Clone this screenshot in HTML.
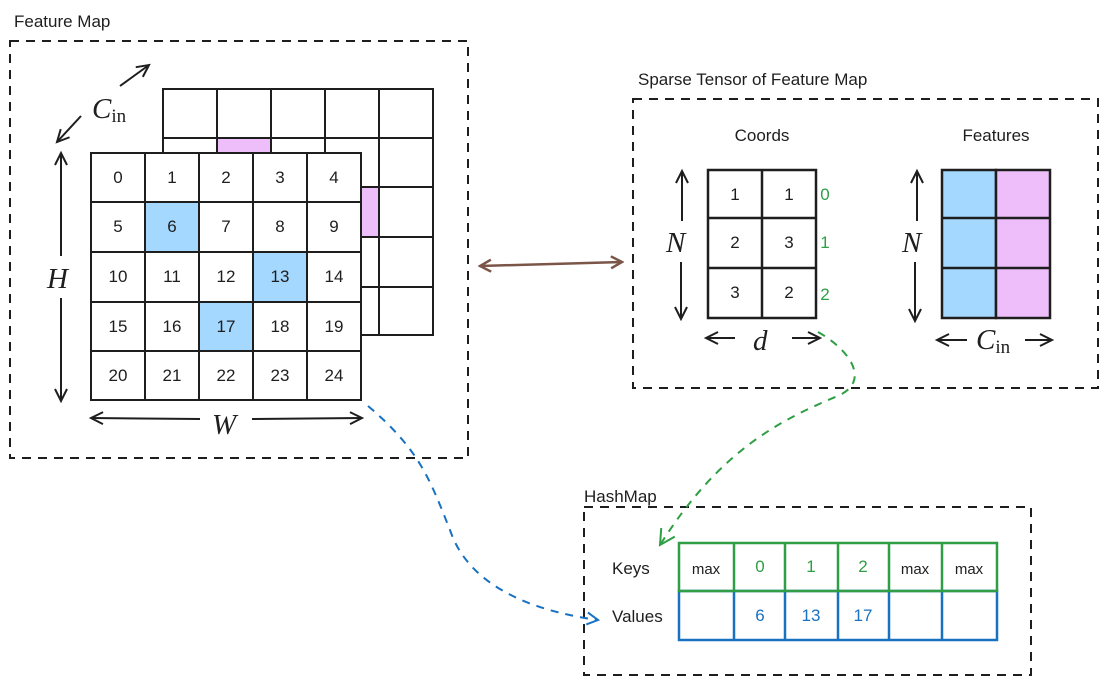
<!DOCTYPE html>
<html><head><meta charset="utf-8"><style>
html,body{margin:0;padding:0;background:#fff;}
svg{display:block;}
text{font-family:"Liberation Sans",sans-serif;}
.hand{font-size:17px;fill:#1e1e1e;}
.math{font-family:"Liberation Serif",serif;font-style:italic;font-size:29px;fill:#1e1e1e;}
</style></head><body>
<svg width="1110" height="685" viewBox="0 0 1110 685" xmlns="http://www.w3.org/2000/svg">
<defs>
<marker id="ah" markerWidth="16" markerHeight="16" refX="13" refY="8" orient="auto-start-reverse" markerUnits="userSpaceOnUse"><path d="M1,2 L13,8 L1,14" fill="none" stroke="#1e1e1e" stroke-width="2"/></marker>
<marker id="ahb" markerWidth="14" markerHeight="14" refX="12" refY="7" orient="auto-start-reverse" markerUnits="userSpaceOnUse"><path d="M1,1 L12,7 L1,13" fill="none" stroke="#7a5548" stroke-width="2.5"/></marker>
<marker id="ahblue" markerWidth="14" markerHeight="14" refX="12" refY="7" orient="auto" markerUnits="userSpaceOnUse"><path d="M1,1 L12,7 L1,13" fill="none" stroke="#1971c2" stroke-width="2"/></marker>
<marker id="ahg" markerWidth="18" markerHeight="18" refX="16" refY="9" orient="auto" markerUnits="userSpaceOnUse"><path d="M1,1 L16,9 L1,17" fill="none" stroke="#2f9e44" stroke-width="2"/></marker>
</defs>
<g fill="none" stroke="#1e1e1e" stroke-width="2" stroke-dasharray="9 7">
<rect x="10" y="41" width="458" height="417"/>
<rect x="633" y="99" width="465" height="289"/>
<rect x="584" y="507" width="447" height="168"/>
</g>
<text class="hand" x="14" y="27">Feature Map</text>
<text class="hand" x="638" y="85">Sparse Tensor of Feature Map</text>
<text class="hand" x="584" y="502">HashMap</text>

<g stroke="#1e1e1e" stroke-width="2">
<rect x="163" y="89" width="270" height="246" fill="#fff"/>
<rect x="217" y="138" width="54" height="49" fill="#eebefa"/>
<rect x="325" y="187" width="54" height="50" fill="#eebefa"/>
<path d="M217,89V335M271,89V335M325,89V335M379,89V335M163,138H433M163,187H433M163,237H433M163,287H433" fill="none"/>
</g>
<g stroke="#1e1e1e" stroke-width="2">
<rect x="91" y="153" width="270" height="247" fill="#fff"/>
<rect x="145" y="202" width="54" height="50" fill="#a5d8ff"/>
<rect x="253" y="252" width="54" height="50" fill="#a5d8ff"/>
<rect x="199" y="302" width="54" height="49" fill="#a5d8ff"/>
<path d="M145,153V400M199,153V400M253,153V400M307,153V400M91,202H361M91,252H361M91,302H361M91,351H361" fill="none"/>
</g>
<g class="hand" text-anchor="middle">
<text x="118" y="183">0</text><text x="172" y="183">1</text><text x="226" y="183">2</text><text x="280" y="183">3</text><text x="334" y="183">4</text>
<text x="118" y="232">5</text><text x="172" y="232">6</text><text x="226" y="232">7</text><text x="280" y="232">8</text><text x="334" y="232">9</text>
<text x="118" y="282">10</text><text x="172" y="282">11</text><text x="226" y="282">12</text><text x="280" y="282">13</text><text x="334" y="282">14</text>
<text x="118" y="332">15</text><text x="172" y="332">16</text><text x="226" y="332">17</text><text x="280" y="332">18</text><text x="334" y="332">19</text>
<text x="118" y="381">20</text><text x="172" y="381">21</text><text x="226" y="381">22</text><text x="280" y="381">23</text><text x="334" y="381">24</text>
</g>
<g stroke="#1e1e1e" stroke-width="2" fill="none">
<line x1="120" y1="86" x2="149" y2="65" marker-end="url(#ah)"/>
<line x1="81" y1="116" x2="57" y2="142" marker-end="url(#ah)"/>
<line x1="61" y1="256" x2="61" y2="153" marker-end="url(#ah)"/>
<line x1="61" y1="298" x2="61" y2="401" marker-end="url(#ah)"/>
<line x1="200" y1="419" x2="91" y2="418" marker-end="url(#ah)"/>
<line x1="252" y1="419" x2="362" y2="418" marker-end="url(#ah)"/>
</g>
<text class="math" x="92" y="118">C<tspan font-style="normal" font-size="19" dy="4">in</tspan></text>
<text class="math" x="47" y="288">H</text>
<text class="math" x="212" y="434">W</text>

<line x1="480" y1="266" x2="622" y2="262" stroke="#7a5548" stroke-width="2.5" marker-start="url(#ahb)" marker-end="url(#ahb)"/>

<text class="hand" x="762" y="141" text-anchor="middle">Coords</text>
<text class="hand" x="996" y="141" text-anchor="middle">Features</text>
<g stroke="#1e1e1e" stroke-width="2.5">
<rect x="708" y="170" width="108" height="148" fill="#fff"/>
<path d="M762,170V318M708,218H816M708,268H816" fill="none"/>
<rect x="942" y="170" width="54" height="148" fill="#a5d8ff"/>
<rect x="996" y="170" width="54" height="148" fill="#eebefa"/>
<path d="M942,218H1050M942,268H1050" fill="none"/>
</g>
<g class="hand" text-anchor="middle">
<text x="735" y="200">1</text><text x="789" y="200">1</text>
<text x="735" y="248">2</text><text x="789" y="248">3</text>
<text x="735" y="298">3</text><text x="789" y="298">2</text>
</g>
<g class="hand" style="fill:#2f9e44" text-anchor="middle">
<text x="825" y="200">0</text><text x="825" y="248">1</text><text x="825" y="300">2</text>
</g>
<g stroke="#1e1e1e" stroke-width="2" fill="none">
<line x1="682" y1="221" x2="682" y2="171" marker-end="url(#ah)"/>
<line x1="681" y1="262" x2="681" y2="319" marker-end="url(#ah)"/>
<line x1="735" y1="338" x2="706" y2="338" marker-end="url(#ah)"/>
<line x1="792" y1="338" x2="820" y2="338" marker-end="url(#ah)"/>
<line x1="917" y1="221" x2="917" y2="171" marker-end="url(#ah)"/>
<line x1="915" y1="262" x2="915" y2="321" marker-end="url(#ah)"/>
<line x1="967" y1="340" x2="937" y2="340" marker-end="url(#ah)"/>
<line x1="1025" y1="340" x2="1052" y2="340" marker-end="url(#ah)"/>
</g>
<text class="math" x="666" y="252">N</text>
<text class="math" x="902" y="252">N</text>
<text class="math" x="753" y="350">d</text>
<text class="math" x="976" y="349">C<tspan font-style="normal" font-size="19" dy="4">in</tspan></text>

<g stroke-width="2.5" fill="none">
<rect x="679" y="591" width="318" height="49" stroke="#1971c2"/>
<path d="M734,591V640M785,591V640M838,591V640M889,591V640M942,591V640" stroke="#1971c2"/>
<rect x="679" y="543" width="318" height="48" stroke="#2f9e44"/>
<path d="M734,543V591M785,543V591M838,543V591M889,543V591M942,543V591" stroke="#2f9e44"/>
</g>
<text class="hand" x="612" y="574">Keys</text>
<text class="hand" x="612" y="622">Values</text>
<g class="hand" text-anchor="middle">
<text x="706" y="574" font-size="15">max</text>
<text x="915" y="574" font-size="15">max</text>
<text x="969" y="574" font-size="15">max</text>
</g>
<g class="hand" style="fill:#2f9e44" text-anchor="middle">
<text x="760" y="572">0</text><text x="811" y="572">1</text><text x="863" y="572">2</text>
</g>
<g class="hand" style="fill:#1971c2" text-anchor="middle">
<text x="760" y="621">6</text><text x="811" y="621">13</text><text x="863" y="621">17</text>
</g>

<path d="M368,406 C420,450 430,480 450,530 C470,590 540,612 598,620" fill="none" stroke="#1971c2" stroke-width="2" stroke-dasharray="8 7" marker-end="url(#ahblue)"/>
<path d="M818,332 C850,350 870,380 840,395 C780,420 720,450 660,545" fill="none" stroke="#2f9e44" stroke-width="2" stroke-dasharray="8 7" marker-end="url(#ahg)"/>
</svg>
</body></html>
